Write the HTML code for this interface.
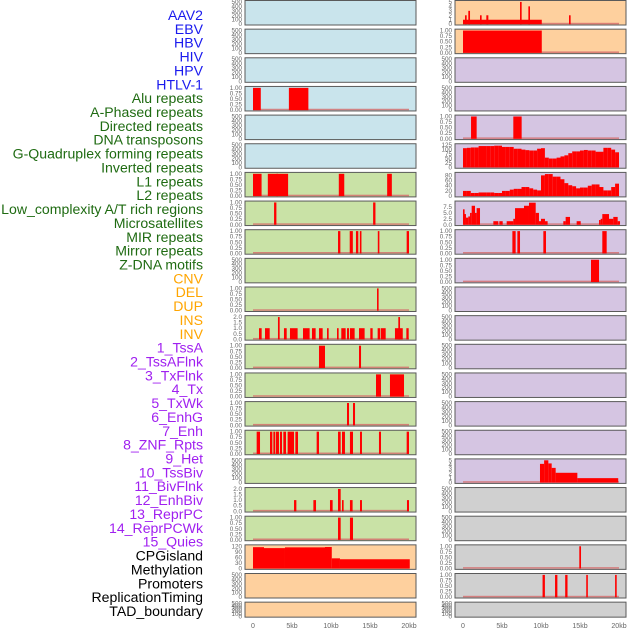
<!DOCTYPE html>
<html><head><meta charset="utf-8"><style>
html,body{margin:0;padding:0;background:#fff;}
svg{display:block;font-family:"Liberation Sans",sans-serif;}
</style></head><body>
<svg id="chart" width="630" height="630" viewBox="0 0 630 630" xmlns="http://www.w3.org/2000/svg"></svg>
<script>
// ---- data (kb intervals: [start, end, value]) ----
const featureLabels = ["AAV2","EBV","HBV","HIV","HPV","HTLV-1","Alu repeats","A-Phased repeats","Directed repeats","DNA transposons","G-Quadruplex forming repeats","Inverted repeats","L1 repeats","L2 repeats","Low_complexity A/T rich regions","Microsatellites","MIR repeats","Mirror repeats","Z-DNA motifs","CNV","DEL","DUP","INS","INV","1_TssA","2_TssAFlnk","3_TxFlnk","4_Tx","5_TxWk","6_EnhG","7_Enh","8_ZNF_Rpts","9_Het","10_TssBiv","11_BivFlnk","12_EnhBiv","13_ReprPC","14_ReprPCWk","15_Quies","CPGisland","Methylation","Promoters","ReplicationTiming","TAD_boundary"];
const labelGroups = [6,13,5,15,5];
const xTickLabels = ["0","5kb","10kb","15kb","20kb"];
const xTickValues = [0,5,10,15,20];

const L3 = [[0,1.0,1],[4.6,7.1,1]];
const L6 = [[0,1.1,1],[1.9,3.2,1],[3.0,4.5,1],[11.0,11.7,1],[17.2,17.8,1]];
const L7 = [[2.7,3.0,1],[15.4,15.7,1]];
const L8 = [[10.9,11.2,1],[12.4,12.8,1],[13.2,13.5,1],[13.7,13.9,1],[16.0,16.2,1],[19.7,20.0,1]];
const L10 = [[15.9,16.1,1]];
const L11 = [[0.77,1.11,1],[1.54,2.14,1],[3.97,4.32,1],[4.74,5.72,1],[6.41,7.26,1],[7.56,8.03,1],[8.46,8.93,1],[9.49,9.70,1],[10.77,10.98,1],[11.32,11.88,1],[12.05,12.31,1],[12.43,13.03,1],[13.59,14.31,1],[15.04,15.34,1],[15.98,16.28,1],[16.37,17.01,1],[18.2,19.2,1],[19.66,19.96,1],[3.2,3.42,2],[18.63,18.85,2]];
const L12 = [[8.46,9.23,1],[13.59,13.85,1]];
const L13 = [[15.77,16.41,1],[17.56,19.36,1]];
const L14 = [[12.05,12.31,1],[12.82,13.08,1]];
const L15 = [[0.47,0.9,1],[2.18,2.48,1],[2.61,2.82,1],[2.91,3.33,1],[3.46,3.72,1],[3.89,4.23,1],[4.44,5.26,1],[5.43,5.77,1],[8.16,8.46,1],[10.9,11.24,1],[11.41,11.79,1],[12.43,12.82,1],[13.72,13.97,1],[16.15,16.41,1],[19.7,20.0,1]];
const L17 = [[5.26,5.56,1],[7.74,8.08,1],[9.87,10.21,1],[11.41,11.62,1],[12.43,12.77,1],[13.72,13.97,1],[19.74,20.0,1],[10.9,11.24,2]];
const L18 = [[10.9,11.24,1],[12.43,12.82,1]];
const L19 = [[0,1.41,115],[1.41,4.1,110],[4.1,9.23,114],[9.23,10.1,116],[10.1,11.15,55],[11.15,20.1,50]];
const R0 = [[0,10.1,1],[0.26,0.47,2],[0.68,0.9,3],[2.18,2.39,2],[2.99,3.25,2],[7.31,7.52,5],[8.38,8.59,4],[13.59,13.8,2]];
const R1 = [[0,10.1,1]];
const R4 = [[1.03,1.75,1],[6.45,7.52,1]];
const R5bins = [108,110,112,112,120,120,120,120,122,122,115,115,115,105,105,100,97,95,95,105,108,55,50,50,55,62,68,80,90,90,95,98,95,95,88,88,110,110,100,85];
const R6bins = [20,20,12,12,14,14,14,14,12,12,20,20,25,28,28,35,35,30,25,22,80,85,85,75,75,65,50,42,38,30,33,33,40,45,45,35,22,22,35,48];
const R7 = [[0,0.13,6.5],[0.13,0.38,4.5],[0.38,0.68,3],[0.68,0.9,3.5],[0.9,1.11,5],[1.11,1.54,8],[1.54,1.75,5],[1.75,2.18,7],[3.89,4.53,1.5],[4.66,5.09,1.5],[5.6,6.45,1.5],[6.45,6.67,2.5],[6.67,7.82,7],[7.82,8.46,8],[8.46,9.32,9.3],[9.32,9.74,5],[9.74,10.0,1.5],[10.0,10.51,2.5],[10.51,10.85,1.5],[12.86,13.16,1.5],[13.16,13.72,3.3],[14.57,15.09,1.5],[17.44,17.65,2],[17.65,17.86,2.5],[17.86,18.72,4.5],[18.72,19.27,2.5],[19.27,19.83,3.3],[19.83,20.13,1.5]];
const R8 = [[6.33,6.75,1],[6.97,7.31,1],[10.3,10.64,1],[17.86,18.42,1]];
const R9 = [[16.41,17.44,1]];
const R16 = [[9.87,10.4,4.2],[10.4,10.94,5],[10.94,11.37,4.3],[11.37,11.88,3.3],[11.88,14.66,2.2],[14.66,19.9,1]];
const R19 = [[14.91,15.13,1]];
const R20 = [[10.2,10.5,1],[11.8,12.1,1],[13.1,13.4,1],[15.8,16.0,1],[19.5,19.7,1]];

// tick label sets
const T_E = {max:500, vals:[0,100,200,300,400,500], labs:["0","100","200","300","400","500"]};
const T_B = {max:1, vals:[0,0.25,0.5,0.75,1], labs:["0.00","0.25","0.50","0.75","1.00"]};
const T_2 = {max:2, vals:[0,0.5,1,1.5,2], labs:["0.0","0.5","1.0","1.5","2.0"]};
const T_120 = {max:120, vals:[0,30,60,90,120], labs:["0","30","60","90","120"]};
const T_5 = {max:5, vals:[0,1,2,3,4,5], labs:["0","1","2","3","4","5"]};
const T_125 = {max:125, vals:[0,25,50,75,100,125], labs:["0","25","50","75","100","125"]};
const T_80 = {max:86, vals:[0,20,40,60,80], labs:["0","20","40","60","80"]};
const T_75 = {max:9.4, vals:[0,2.5,5,7.5], labs:["0.0","2.5","5.0","7.5"]};

const BLUE="#c9e4ec", GREEN="#c9e2a6", ORANGE="#fed09e", PURPLE="#d5c5e2", GRAY="#d0d0d0";
const leftPanels = [
 [BLUE,T_E,null],[BLUE,T_E,null],[BLUE,T_E,null],[BLUE,T_B,L3],[BLUE,T_E,null],[BLUE,T_E,null],
 [GREEN,T_B,L6],[GREEN,T_B,L7],[GREEN,T_B,L8],[GREEN,T_E,null],[GREEN,T_B,L10],[GREEN,T_2,L11],[GREEN,T_B,L12],[GREEN,T_B,L13],[GREEN,T_B,L14],[GREEN,T_B,L15],[GREEN,T_E,null],[GREEN,T_2,L17],[GREEN,T_B,L18],
 [ORANGE,T_120,L19],[ORANGE,T_E,null],[ORANGE,T_E,null]];
const rightPanels = [
 [ORANGE,T_5,R0],[ORANGE,T_B,R1],[PURPLE,T_E,null],[PURPLE,T_E,null],[PURPLE,T_B,R4],[PURPLE,T_125,"R5"],[PURPLE,T_80,"R6"],[PURPLE,T_75,R7],[PURPLE,T_B,R8],[PURPLE,T_B,R9],
 [PURPLE,T_E,null],[PURPLE,T_E,null],[PURPLE,T_E,null],[PURPLE,T_E,null],[PURPLE,T_E,null],[PURPLE,T_E,null],[PURPLE,T_5,R16],
 [GRAY,T_E,null],[GRAY,T_E,null],[GRAY,T_B,R19],[GRAY,T_B,R20],[GRAY,T_E,null]];

// ---- drawing ----
const NS="http://www.w3.org/2000/svg";
const svg=document.getElementById('chart');
function mk(tag,attrs,parent){const e=document.createElementNS(NS,tag);for(const k in attrs)e.setAttribute(k,attrs[k]);(parent||svg).appendChild(e);return e;}

const groupColors=["#1a1aee","#1f6b12","#ffa500","#a020f0","#000000"];
let gi=0,cnt=0;
featureLabels.forEach((t,i)=>{
  while(cnt>=labelGroups[gi]){cnt-=labelGroups[gi];gi++;}
  const el=mk('text',{x:203,y:20+13.86*i,'text-anchor':'end','font-size':'14.1',fill:groupColors[gi]});
  
  
  el.textContent=t;cnt++;
});

function panelGeom(row){const top=0.5+28.65*row;const h=row===21?15:24.5;return {top,h,bottom:top+h};}
function drawPanel(col,row,spec){
  const [bg,ticks,data]=spec;
  const px=col?455:245, pw=171;
  const g=panelGeom(row);
  const x0=col?463:253;
  const xs=k=>x0+k*7.8;
  const ys=v=>g.bottom-0.8-v/ticks.max*(g.h-2.2);
  const grp=mk('g',{});
  
  
  const r=mk('rect',{x:px,y:g.top,width:pw,height:g.h,fill:bg,stroke:'#5a5a5a','stroke-width':1},grp);
  
  
  ticks.vals.forEach((v,i)=>{
    const tl=mk('text',{x:px-3,y:ys(v)+2,'text-anchor':'end','font-size':'6.3',fill:'#666'},grp);
    
    
    tl.textContent=ticks.labs[i];
  });
  if(!data)return;
  const bl=mk('rect',{x:xs(0),y:g.bottom-2.2,width:xs(20)-xs(0),height:1.5,fill:'#d46a6a','fill-opacity':0.8},grp);
  
  
  let bars=data;
  if(data==="R5"||data==="R6"){
    const bins=data==="R5"?R5bins:R6bins;
    bars=bins.map((v,i)=>[i*0.5,i*0.5+0.5,v]);
  }
  bars.forEach(b=>{
    const x=xs(Math.max(0,b[0])),w=Math.max(1.6,xs(b[1])-x);
    const y=ys(b[2]);
    const br=mk('rect',{x:x,y:y,width:w,height:g.bottom-0.8-y,fill:'#ff0000'},grp);
    
    
  });
}
leftPanels.forEach((s,i)=>drawPanel(0,i,s));
rightPanels.forEach((s,i)=>drawPanel(1,i,s));

[253,463].forEach(x0=>{
  xTickValues.forEach((v,i)=>{
    const t=mk('text',{x:x0+v*7.8,y:628,'text-anchor':'middle','font-size':'7',fill:'#666'});
    
    
    t.textContent=xTickLabels[i];
  });
});
</script>
</body></html>
